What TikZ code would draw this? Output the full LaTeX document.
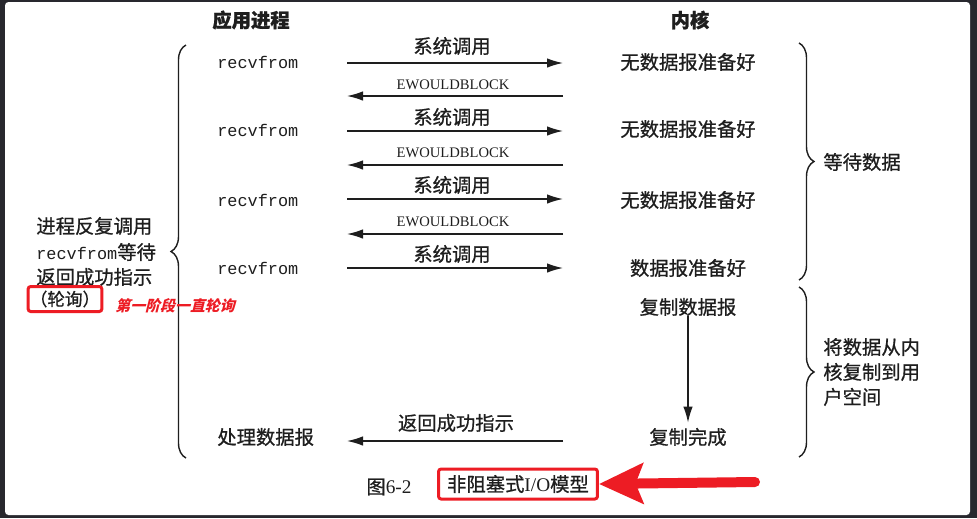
\documentclass[tikz,border=0pt]{standalone}
\usepackage{fontspec}
\setmainfont{Liberation Serif}
\setmonofont{Liberation Mono}
\newfontfamily\cjk[FakeBold=0.8]{Noto Sans CJK SC}
\newfontfamily\cjkslant[FakeSlant=0.25]{Noto Sans CJK SC}
\usetikzlibrary{arrows.meta,decorations.pathreplacing}
\definecolor{framebg}{RGB}{40,40,46}
\definecolor{markred}{RGB}{237,28,36}
\definecolor{ink}{RGB}{30,30,30}

\begin{document}
\begin{tikzpicture}[
  x=0.02cm,
  y=-0.02cm,
  >={Latex[length=0.32cm, width=0.19cm]},
  head/.style={font=\cjk\bfseries\fontsize{11}{13}\selectfont, text=ink, inner sep=0pt},
  txt/.style={font=\cjk\fontsize{11}{13}\selectfont, text=ink, inner sep=0pt},
  call/.style={font=\ttfamily\fontsize{9.6}{11}\selectfont, text=ink, inner sep=0pt, anchor=west},
  err/.style={font=\fontsize{8.3}{10}\selectfont, text=ink, inner sep=0pt},
  msg/.style={->, line width=0.8pt, draw=ink},
  curly/.style={decorate, decoration={brace, amplitude=0.3cm}, line width=0.8pt, draw=ink},
  redbox/.style={draw=markred, line width=0.06cm, rounded corners=1.5pt},
  note/.style={font=\cjkslant\bfseries\fontsize{8.5}{10}\selectfont, text=markred, inner sep=0pt, anchor=west},
  bigarrow/.style={-{Stealth[length=0.88cm, width=0.8cm, inset=0.15cm]}, line width=0.2cm, line cap=round, draw=markred}
]
  % frame
  \path[use as bounding box, fill=framebg] (0,0) rectangle (977,518);
  \fill[white, rounded corners=2pt] (5,2) rectangle (970,515);

  % column heads
  \node[head] (app) at (251,20) {应用进程};
  \node[head] (kern) at (690,20) {内核};

  % application side
  \node[call] (r1) at (217,62) {recvfrom};
  \node[call] (r2) at (217,130) {recvfrom};
  \node[call] (r3) at (217,200) {recvfrom};
  \node[call] (r4) at (217,268) {recvfrom};
  \node[txt, anchor=west] (proc) at (217,437) {处理数据报};

  % kernel side
  \node[txt] (k1) at (688,62) {无数据报准备好};
  \node[txt] (k2) at (688,129) {无数据报准备好};
  \node[txt] (k3) at (688,200) {无数据报准备好};
  \node[txt] (k4) at (688,268) {数据报准备好};
  \node[txt] (kcopy) at (688,307) {复制数据报};
  \node[txt] (kdone) at (688,437) {复制完成};

  % arrow ends
  \coordinate (uc1) at (347,63);  \coordinate (kc1) at (563,63);
  \coordinate (ue1) at (347,96);  \coordinate (ke1) at (563,96);
  \coordinate (uc2) at (347,131); \coordinate (kc2) at (563,131);
  \coordinate (ue2) at (347,165); \coordinate (ke2) at (563,165);
  \coordinate (uc3) at (347,199); \coordinate (kc3) at (563,199);
  \coordinate (ue3) at (347,234); \coordinate (ke3) at (563,234);
  \coordinate (uc4) at (347,268); \coordinate (kc4) at (563,268);
  \coordinate (uret) at (347,441); \coordinate (kret) at (563,441);

  \draw[msg] (uc1) -- (kc1);
  \draw[msg] (ke1) -- (ue1);
  \draw[msg] (uc2) -- (kc2);
  \draw[msg] (ke2) -- (ue2);
  \draw[msg] (uc3) -- (kc3);
  \draw[msg] (ke3) -- (ue3);
  \draw[msg] (uc4) -- (kc4);
  \draw[msg] (kret) -- (uret);
  \draw[msg, shorten >=0.1cm] (kcopy) -- (kdone);

  \node[txt] (sc1) at (452,46) {系统调用};
  \node[err] (eb1) at (453,85) {EWOULDBLOCK};
  \node[txt] (sc2) at (452,117) {系统调用};
  \node[err] (eb2) at (453,153) {EWOULDBLOCK};
  \node[txt] (sc3) at (452,185) {系统调用};
  \node[err] (eb3) at (453,222) {EWOULDBLOCK};
  \node[txt] (sc4) at (452,254) {系统调用};
  \node[txt] (ok) at (456,423) {返回成功指示};

  % braces
  \coordinate (lbtop) at (186,45);  \coordinate (lbbot) at (186,458);
  \coordinate (wtop) at (799,43);   \coordinate (wbot) at (799,280);
  \coordinate (ctop) at (799,287);  \coordinate (cbot) at (799,457);
  \draw[curly] (lbbot) -- (lbtop);
  \draw[curly] (wtop) -- (wbot);
  \draw[curly] (ctop) -- (cbot);

  \node[txt, anchor=west] (wait) at (823,162) {等待数据};
  \node[txt, anchor=west, align=left, font=\cjk\fontsize{11}{14.2}\selectfont] (copy) at (823,372) {将数据从内\\核复制到用\\户空间};

  \node[txt, anchor=west] (why1) at (36,226) {进程反复调用};
  \node[txt, anchor=west] (why2) at (36,252) {{\ttfamily\fontsize{9.6}{11}\selectfont recvfrom}等待};
  \node[txt, anchor=west] (why3) at (36,277) {返回成功指示};
  \node[txt, redbox, font=\cjk\fontsize{10}{12}\selectfont, inner xsep=1pt, minimum height=0.5cm] (poll) at (65,299) {（轮询）};
  \node[note] (phase) at (115,306) {第一阶段一直轮询};

  % caption
  \node[txt] (fig) at (389,487) {图{\rmfamily 6-2}};
  \node[txt, redbox, minimum width=3.18cm, minimum height=0.6cm] (cap) at (518,484) {非阻塞式{\rmfamily I/O}模型};
  \coordinate (tail) at (755,482);
  \draw[bigarrow] (tail) -- (cap.east);
\end{tikzpicture}
\end{document}
